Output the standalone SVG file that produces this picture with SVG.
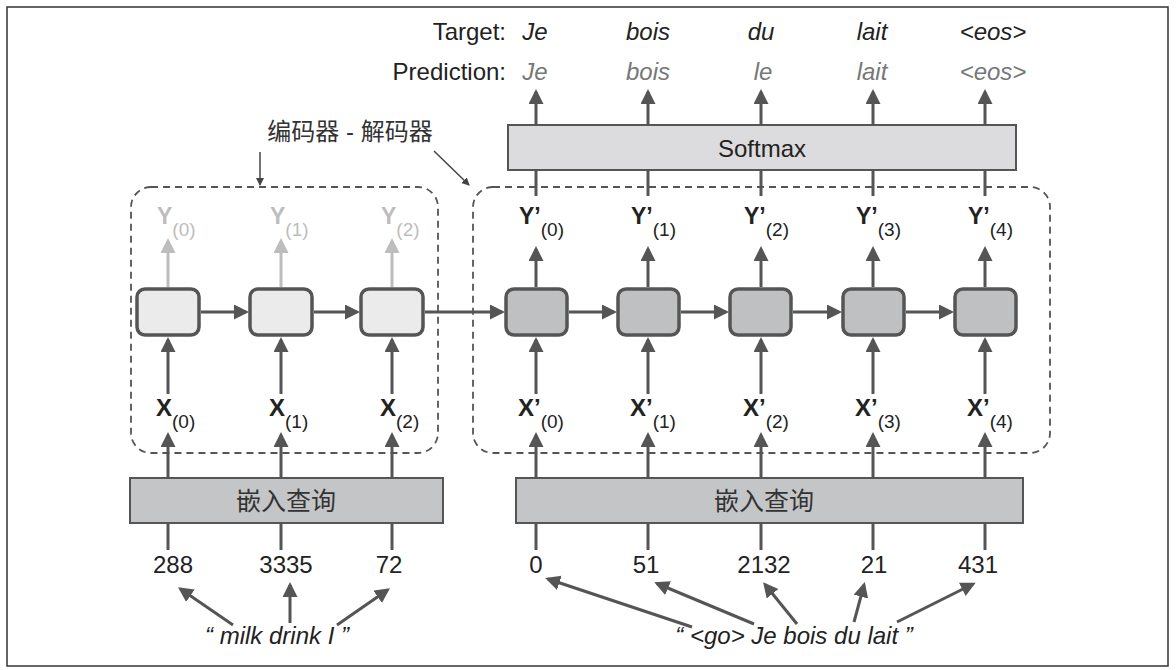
<svg xmlns="http://www.w3.org/2000/svg" width="1176" height="670" viewBox="0 0 1176 670">
<defs>
<marker id="ah" markerUnits="userSpaceOnUse" markerWidth="16" markerHeight="16" refX="12" refY="7.5" orient="auto"><path d="M0,0 L15,7.5 L0,15 z" fill="#555"/></marker>
<marker id="ahg" markerUnits="userSpaceOnUse" markerWidth="16" markerHeight="16" refX="12" refY="7.5" orient="auto"><path d="M0,0 L15,7.5 L0,15 z" fill="#bdbdbd"/></marker>
<marker id="ahs" markerUnits="userSpaceOnUse" markerWidth="10" markerHeight="10" refX="7" refY="4" orient="auto"><path d="M0,0 L8,4 L0,8 z" fill="#444"/></marker>
<style>
.t{font-family:"Liberation Sans",Arial,sans-serif;fill:#222}
.cjk{font-family:"Liberation Sans","Noto Sans CJK SC",sans-serif;fill:#333}
.it{font-style:italic}
.b{font-weight:bold}
.ln{stroke:#555;stroke-width:3;fill:none}
.ar{stroke:#555;stroke-width:3;fill:none;marker-end:url(#ah)}
.arg{stroke:#bdbdbd;stroke-width:3;fill:none;marker-end:url(#ahg)}
.ars{stroke:#444;stroke-width:1.5;fill:none;marker-end:url(#ahs)}
.enc{fill:#ebebeb;stroke:#555;stroke-width:3.5}
.dec{fill:#bfc0c2;stroke:#555;stroke-width:3.5}
.dash{fill:none;stroke:#555;stroke-width:1.8;stroke-dasharray:7 5}
</style>
</defs>
<rect x="7" y="7" width="1161" height="659" fill="#fff" stroke="#333" stroke-width="1.5"/>

<g id="header">
<text class="t" x="506" y="40" font-size="24" text-anchor="end">Target:</text>
<text class="t" x="506" y="80" font-size="24" text-anchor="end">Prediction:</text>
<g class="t it" font-size="24" text-anchor="middle">
<text x="535" y="40">Je</text><text x="648" y="40">bois</text><text x="761" y="40">du</text><text x="872" y="40">lait</text><text x="993" y="40">&lt;eos&gt;</text>
</g>
<g class="t it" font-size="24" text-anchor="middle" style="fill:#777">
<text x="535" y="80">Je</text><text x="648" y="80">bois</text><text x="763" y="80">le</text><text x="872" y="80">lait</text><text x="993" y="80">&lt;eos&gt;</text>
</g>
</g>

<g id="label-encdec">
<text class="cjk" x="350" y="140" font-size="24" text-anchor="middle">编码器 - 解码器</text>
</g>

<g id="softmax">
<rect x="508" y="125" width="508" height="45" fill="#dcdcde" stroke="#555" stroke-width="2"/>
<text class="t" x="762" y="157" font-size="24" text-anchor="middle">Softmax</text>
</g>

<g id="encoder-box"><rect class="dash" x="131" y="187" width="307" height="266" rx="20"/></g>
<g id="decoder-box"><rect class="dash" x="473" y="187" width="577" height="266" rx="20"/></g>

<g id="enc-cells">
<rect id="enc0" class="enc" x="137" y="289" width="62" height="46" rx="8"/>
<rect id="enc1" class="enc" x="250" y="289" width="62" height="46" rx="8"/>
<rect id="enc2" class="enc" x="361" y="289" width="62" height="46" rx="8"/>
</g>
<g id="dec-cells">
<rect id="dec0" class="dec" x="506" y="289" width="61" height="46" rx="8"/>
<rect id="dec1" class="dec" x="618" y="289" width="61" height="46" rx="8"/>
<rect id="dec2" class="dec" x="730" y="289" width="61" height="46" rx="8"/>
<rect id="dec3" class="dec" x="843" y="289" width="61" height="46" rx="8"/>
<rect id="dec4" class="dec" x="955" y="289" width="61" height="46" rx="8"/>
</g>

<g id="enc-y-labels" class="t" font-size="23" style="fill:#bdbdbd">
<text x="157" y="224"><tspan class="b">Y</tspan><tspan font-size="19" dy="12">(0)</tspan></text>
<text x="270" y="224"><tspan class="b">Y</tspan><tspan font-size="19" dy="12">(1)</tspan></text>
<text x="381" y="224"><tspan class="b">Y</tspan><tspan font-size="19" dy="12">(2)</tspan></text>
</g>
<g id="dec-y-labels" font-size="23">
<text class="t" x="519" y="224"><tspan class="b">Y’</tspan><tspan font-size="19" dy="12">(0)</tspan></text>
<text class="t" x="631" y="224"><tspan class="b">Y’</tspan><tspan font-size="19" dy="12">(1)</tspan></text>
<text class="t" x="744" y="224"><tspan class="b">Y’</tspan><tspan font-size="19" dy="12">(2)</tspan></text>
<text class="t" x="856" y="224"><tspan class="b">Y’</tspan><tspan font-size="19" dy="12">(3)</tspan></text>
<text class="t" x="968" y="224"><tspan class="b">Y’</tspan><tspan font-size="19" dy="12">(4)</tspan></text>
</g>
<g id="enc-x-labels" font-size="24">
<text class="t" x="156" y="416"><tspan class="b">X</tspan><tspan font-size="19" dy="12">(0)</tspan></text>
<text class="t" x="269" y="416"><tspan class="b">X</tspan><tspan font-size="19" dy="12">(1)</tspan></text>
<text class="t" x="380" y="416"><tspan class="b">X</tspan><tspan font-size="19" dy="12">(2)</tspan></text>
</g>
<g id="dec-x-labels" font-size="24">
<text class="t" x="518" y="416"><tspan class="b">X’</tspan><tspan font-size="19" dy="12">(0)</tspan></text>
<text class="t" x="630" y="416"><tspan class="b">X’</tspan><tspan font-size="19" dy="12">(1)</tspan></text>
<text class="t" x="743" y="416"><tspan class="b">X’</tspan><tspan font-size="19" dy="12">(2)</tspan></text>
<text class="t" x="855" y="416"><tspan class="b">X’</tspan><tspan font-size="19" dy="12">(3)</tspan></text>
<text class="t" x="967" y="416"><tspan class="b">X’</tspan><tspan font-size="19" dy="12">(4)</tspan></text>
</g>

<g id="embed-enc">
<rect x="130" y="478" width="313" height="45" fill="#c4c5c7" stroke="#555" stroke-width="2"/>
<text class="cjk" x="286" y="510" font-size="25" text-anchor="middle">嵌入查询</text>
</g>
<g id="embed-dec">
<rect x="516" y="478" width="507" height="45" fill="#c4c5c7" stroke="#555" stroke-width="2"/>
<text class="cjk" x="764" y="510" font-size="25" text-anchor="middle">嵌入查询</text>
</g>

<g id="ids" class="t" font-size="24" text-anchor="middle">
<text x="173" y="573">288</text><text x="286" y="573">3335</text><text x="389" y="573">72</text>
<text x="536" y="573">0</text><text x="646" y="573">51</text><text x="764" y="573">2132</text><text x="874" y="573">21</text><text x="978" y="573">431</text>
</g>

<g id="sentences" class="t it" font-size="24" text-anchor="middle">
<text x="277" y="644">“ milk drink I ”</text>
<text x="794" y="644">“ &lt;go&gt; Je bois du lait ”</text>
</g>

<g id="connectors">
<line class="ars" x1="260" y1="152" x2="260" y2="185"/>
<line class="ars" x1="434" y1="151" x2="469" y2="185"/>
<line class="ar" x1="536" y1="125" x2="536" y2="92"/>
<line class="ar" x1="648" y1="125" x2="648" y2="92"/>
<line class="ar" x1="761" y1="125" x2="761" y2="92"/>
<line class="ar" x1="873" y1="125" x2="873" y2="92"/>
<line class="ar" x1="985" y1="125" x2="985" y2="92"/>
<line class="ln" x1="536" y1="170" x2="536" y2="196"/>
<line class="ln" x1="648" y1="170" x2="648" y2="196"/>
<line class="ln" x1="761" y1="170" x2="761" y2="196"/>
<line class="ln" x1="873" y1="170" x2="873" y2="196"/>
<line class="ln" x1="985" y1="170" x2="985" y2="196"/>
<line class="arg" x1="168" y1="287" x2="168" y2="241"/>
<line class="arg" x1="281" y1="287" x2="281" y2="241"/>
<line class="arg" x1="392" y1="287" x2="392" y2="241"/>
<line class="ar" x1="536" y1="287" x2="536" y2="249"/>
<line class="ar" x1="648" y1="287" x2="648" y2="249"/>
<line class="ar" x1="761" y1="287" x2="761" y2="249"/>
<line class="ar" x1="873" y1="287" x2="873" y2="249"/>
<line class="ar" x1="985" y1="287" x2="985" y2="249"/>
<line class="ar" x1="201" y1="312" x2="246" y2="312"/>
<line class="ar" x1="314" y1="312" x2="357" y2="312"/>
<line class="ar" x1="425" y1="312" x2="502" y2="312"/>
<line class="ar" x1="569" y1="312" x2="614" y2="312"/>
<line class="ar" x1="681" y1="312" x2="726" y2="312"/>
<line class="ar" x1="793" y1="312" x2="839" y2="312"/>
<line class="ar" x1="906" y1="312" x2="951" y2="312"/>
<line class="ar" x1="168" y1="394" x2="168" y2="340"/>
<line class="ar" x1="281" y1="394" x2="281" y2="340"/>
<line class="ar" x1="392" y1="394" x2="392" y2="340"/>
<line class="ar" x1="536" y1="394" x2="536" y2="340"/>
<line class="ar" x1="648" y1="394" x2="648" y2="340"/>
<line class="ar" x1="761" y1="394" x2="761" y2="340"/>
<line class="ar" x1="873" y1="394" x2="873" y2="340"/>
<line class="ar" x1="985" y1="394" x2="985" y2="340"/>
<line class="ar" x1="168" y1="477" x2="168" y2="435"/>
<line class="ar" x1="281" y1="477" x2="281" y2="435"/>
<line class="ar" x1="392" y1="477" x2="392" y2="435"/>
<line class="ar" x1="536" y1="477" x2="536" y2="435"/>
<line class="ar" x1="648" y1="477" x2="648" y2="435"/>
<line class="ar" x1="761" y1="477" x2="761" y2="435"/>
<line class="ar" x1="873" y1="477" x2="873" y2="435"/>
<line class="ar" x1="985" y1="477" x2="985" y2="435"/>
<line class="ln" x1="168" y1="524" x2="168" y2="550"/>
<line class="ln" x1="281" y1="524" x2="281" y2="550"/>
<line class="ln" x1="392" y1="524" x2="392" y2="550"/>
<line class="ln" x1="536" y1="524" x2="536" y2="550"/>
<line class="ln" x1="648" y1="524" x2="648" y2="550"/>
<line class="ln" x1="761" y1="524" x2="761" y2="550"/>
<line class="ln" x1="873" y1="524" x2="873" y2="550"/>
<line class="ln" x1="985" y1="524" x2="985" y2="550"/>
<line class="ar" x1="233" y1="625" x2="180.5" y2="589"/>
<line class="ar" x1="290" y1="623" x2="290" y2="585"/>
<line class="ar" x1="337" y1="625" x2="387.5" y2="590"/>
<line class="ar" x1="692" y1="627" x2="548" y2="579"/>
<line class="ar" x1="754" y1="624" x2="657" y2="583.5"/>
<line class="ar" x1="797" y1="624" x2="765" y2="584.5"/>
<line class="ar" x1="854" y1="622" x2="864" y2="585"/>
<line class="ar" x1="897" y1="622" x2="973" y2="584"/>
</g>
</svg>
